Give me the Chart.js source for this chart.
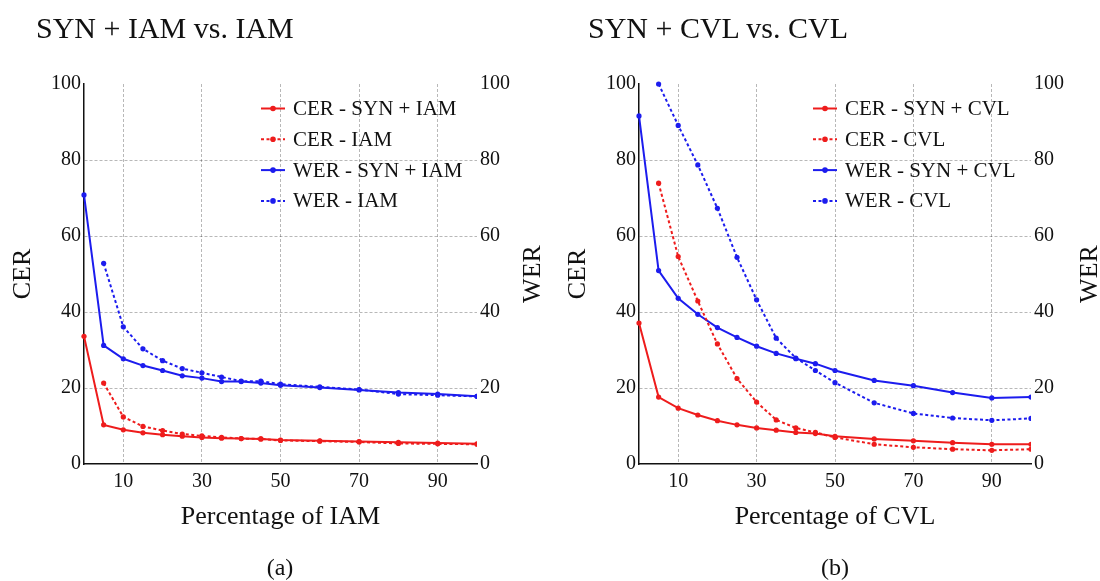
<!DOCTYPE html>
<html>
<head>
<meta charset="utf-8">
<script src="https://cdn.jsdelivr.net/npm/chart.js@4/dist/chart.umd.min.js"></script>
<style>
  html, body { margin: 0; padding: 0; background: #fff; }
  #wrap { position: relative; width: 1100px; height: 581px; font-family: 'Liberation Serif', 'Times New Roman', serif; color: #111; }
  .panel { position: absolute; top: 0; width: 550px; height: 581px; }
  .title { position: absolute; font-size: 30px; line-height: 30px; white-space: nowrap; }
  .caption { position: absolute; font-size: 24px; line-height: 24px; width: 60px; text-align: center; }
</style>
</head>
<body>
<div id="wrap">
  <div class="panel" style="left:0"><canvas id="chartA" width="550" height="581"></canvas></div>
  <div class="panel" style="left:550px"><canvas id="chartB" width="550" height="581"></canvas></div>
  <div class="title" style="left:36px; top:13px">SYN + IAM vs. IAM</div>
  <div class="title" style="left:588px; top:13px">SYN + CVL vs. CVL</div>
  <div class="caption" style="left:250px; top:555px">(a)</div>
  <div class="caption" style="left:805px; top:555px">(b)</div>
</div>
<script>
// x positions (percentage of real data used)
const percentages = [0, 5, 10, 15, 20, 25, 30, 35, 40, 45, 50, 60, 70, 80, 90, 100]
const xTickValues = [10, 30, 50, 70, 90]

// (a) SYN + IAM vs. IAM
const cerSynIam = [33.6, 10.3, 9.0, 8.2, 7.7, 7.3, 7.0, 6.8, 6.7, 6.6, 6.3, 6.1, 5.9, 5.7, 5.5, 5.3]
const cerIam    = [null, 21.3, 12.4, 9.9, 8.8, 7.9, 7.4, 7.0, 6.7, 6.6, 6.2, 6.0, 5.8, 5.4, 5.3, 5.2]
const werSynIam = [70.8, 31.2, 27.7, 25.9, 24.6, 23.2, 22.6, 21.7, 21.7, 21.3, 20.7, 20.1, 19.5, 18.8, 18.4, 17.8]
const werIam    = [null, 52.8, 36.1, 30.3, 27.2, 25.1, 24.0, 22.9, 21.8, 21.8, 21.0, 20.3, 19.6, 18.4, 18.1, 17.8]

// (b) SYN + CVL vs. CVL
const cerSynCvl = [37.1, 17.6, 14.7, 12.9, 11.4, 10.3, 9.5, 8.9, 8.3, 8.0, 7.3, 6.6, 6.1, 5.6, 5.2, 5.2]
const cerCvl    = [null, 73.9, 54.6, 42.9, 31.6, 22.5, 16.3, 11.6, 9.5, 8.3, 7.0, 5.2, 4.4, 3.9, 3.6, 3.9]
const werSynCvl = [91.6, 50.9, 43.6, 39.4, 35.9, 33.3, 31.0, 29.1, 27.7, 26.4, 24.6, 22.0, 20.6, 18.8, 17.4, 17.6]
const werCvl    = [null, 100, 89.1, 78.7, 67.3, 54.4, 43.2, 33.1, 27.9, 24.6, 21.4, 16.1, 13.3, 12.1, 11.5, 12.0]

const RED = '#ee1c1c'
const BLUE = '#1c1cee'
const GRID = 'rgba(0,0,0,0.28)'

Chart.defaults.font.family = "'Liberation Serif', 'Times New Roman', serif"
Chart.defaults.color = '#111'

const toPoints = (ys) => percentages.map((x, i) => ({ x: x, y: ys[i] }))

const series = (label, values, color, dotted, axis) => ({
    label: label,
    data: toPoints(values),
    yAxisID: axis,
    borderColor: color,
    backgroundColor: color,
    borderWidth: 2,
    borderDash: dotted ? [3, 2.5] : [],
    pointRadius: 2.6,
    pointBorderWidth: 0,
    pointBackgroundColor: color,
    tension: 0,
    clip: { left: 6, top: 6, right: 0, bottom: 6 }
})

// legend drawn inside the plot, top right
const innerLegend = {
    id: 'innerLegend',
    afterDraw(chart, args, opts) {
        const ctx = chart.ctx
        ctx.save()
        ctx.font = "21px 'Liberation Serif', 'Times New Roman', serif"
        ctx.textBaseline = 'middle'
        chart.data.datasets.forEach((ds, i) => {
            const y = opts.top + i * opts.rowGap
            const x0 = opts.left
            ctx.strokeStyle = ds.borderColor
            ctx.lineWidth = 2
            ctx.setLineDash(ds.borderDash)
            ctx.beginPath()
            ctx.moveTo(x0, y)
            ctx.lineTo(x0 + 24, y)
            ctx.stroke()
            ctx.setLineDash([])
            ctx.fillStyle = ds.borderColor
            ctx.beginPath()
            ctx.arc(x0 + 12, y, 2.8, 0, Math.PI * 2)
            ctx.fill()
            ctx.fillStyle = '#111'
            ctx.fillText(ds.label, x0 + 32, y + 1)
        })
        ctx.restore()
    }
}

// right-hand axis title, read bottom to top like the left one
const rightTitle = {
    id: 'rightTitle',
    afterDraw(chart, args, opts) {
        const ctx = chart.ctx
        const a = chart.chartArea
        ctx.save()
        ctx.font = "26px 'Liberation Serif', 'Times New Roman', serif"
        ctx.fillStyle = '#111'
        ctx.textAlign = 'center'
        ctx.textBaseline = 'middle'
        ctx.translate(opts.x, (a.top + a.bottom) / 2)
        ctx.rotate(-Math.PI / 2)
        ctx.fillText(opts.text, 0, 0)
        ctx.restore()
    }
}

function makePanel(id, names, cerMixed, cerReal, werMixed, werReal, xTitle, sizes) {
    const ctx = document.getElementById(id).getContext('2d')
    return new Chart(ctx, {
        type: 'line',
        data: {
            datasets: [
                series('CER - SYN + ' + names, cerMixed, RED, false, 'y'),
                series('CER - ' + names, cerReal, RED, true, 'y'),
                series('WER - SYN + ' + names, werMixed, BLUE, false, 'y2'),
                series('WER - ' + names, werReal, BLUE, true, 'y2')
            ]
        },
        options: {
            responsive: false,
            animation: false,
            devicePixelRatio: 1,
            layout: { padding: { top: 84, left: 0, right: 0, bottom: 0 } },
            plugins: {
                legend: { display: false },
                tooltip: { enabled: false },
                innerLegend: { left: sizes.legendX, top: 108.5, rowGap: 30.8 },
                rightTitle: { text: 'WER', x: sizes.werX }
            },
            scales: {
                x: {
                    type: 'linear',
                    min: 0,
                    max: 100,
                    afterBuildTicks: (s) => { s.ticks = xTickValues.map(v => ({ value: v })) },
                    afterFit: (s) => { s.height = 117 },
                    grid: { color: GRID, lineWidth: 1, drawTicks: false },
                    border: { color: '#111', width: 1.5, dash: [3, 2] },
                    ticks: { padding: 6, font: { size: 20 }, maxRotation: 0, autoSkip: false },
                    title: { display: true, text: xTitle, font: { size: 26 }, padding: { top: 0, bottom: 48 } }
                },
                y: {
                    position: 'left',
                    min: 0,
                    max: 100,
                    afterFit: (s) => { s.width = sizes.leftW },
                    grid: {
                        color: (c) => (c.tick && (c.tick.value === 0 || c.tick.value === 100)) ? 'rgba(0,0,0,0)' : GRID,
                        lineWidth: 1,
                        drawTicks: false
                    },
                    border: { color: '#111', width: 1.5, dash: [3, 2] },
                    ticks: { stepSize: 20, padding: 3, font: { size: 20 } },
                    title: { display: true, text: 'CER', font: { size: 26 }, padding: { top: sizes.cerPad, bottom: 0 } }
                },
                y2: {
                    position: 'right',
                    min: 0,
                    max: 100,
                    afterFit: (s) => { s.width = sizes.rightW },
                    grid: { display: false, drawTicks: false },
                    border: { display: false },
                    ticks: { stepSize: 20, padding: 3, font: { size: 20 } }
                }
            }
        },
        plugins: [innerLegend, rightTitle]
    })
}

makePanel('chartA', 'IAM', cerSynIam, cerIam, werSynIam, werIam, 'Percentage of IAM',
    { leftW: 84, rightW: 73, legendX: 261, werX: 533, cerPad: 8 })
makePanel('chartB', 'CVL', cerSynCvl, cerCvl, werSynCvl, werCvl, 'Percentage of CVL',
    { leftW: 89, rightW: 69, legendX: 263, werX: 540, cerPad: 13 })
</script>
</body>
</html>
